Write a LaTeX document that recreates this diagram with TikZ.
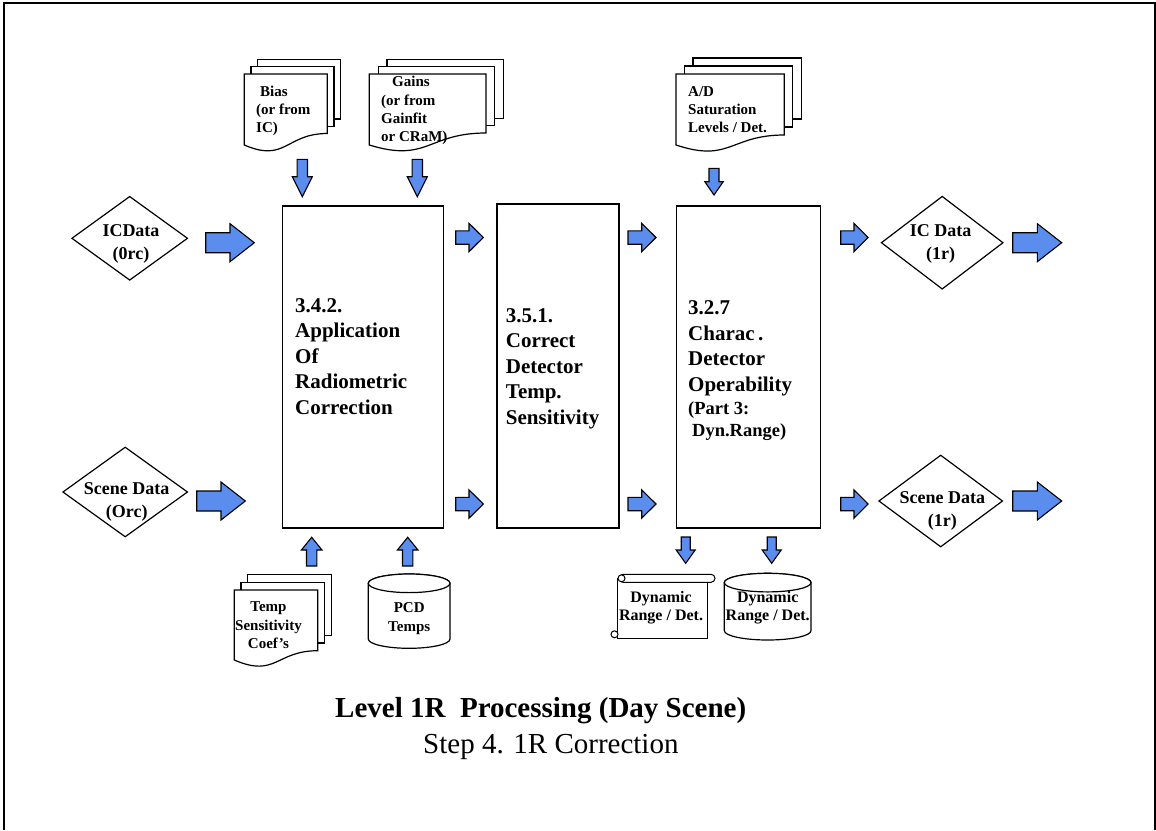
\documentclass[tikz,border=0pt]{standalone}
\usepackage{fontspec}
\setmainfont{Liberation Serif}
\usetikzlibrary{shapes.geometric}
\definecolor{flowblue}{RGB}{91,141,239}
\newcommand{\boxfont}{\fontsize{21pt}{25.5pt}\selectfont\bfseries}
\newcommand{\smallboxfont}{\fontsize{18.5pt}{22pt}\selectfont\bfseries}
\newcommand{\diafont}{\fontsize{18pt}{22.6pt}\selectfont\bfseries}
\newcommand{\docfont}{\fontsize{15pt}{18.3pt}\selectfont\bfseries}
\newcommand{\storefont}{\fontsize{16pt}{18pt}\selectfont\bfseries}
\newcommand{\titlefont}{\fontsize{29pt}{34pt}\selectfont\bfseries}
\newcommand{\subtitlefont}{\fontsize{29pt}{34pt}\selectfont}
% block arrows: tail, centre, head start, tip, half shaft, half head
\newcommand{\rightblock}[6]{\filldraw[blockarrow] (#1,#2-#5) -- (#3,#2-#5) -- (#3,#2-#6) -- (#4,#2) -- (#3,#2+#6) -- (#3,#2+#5) -- (#1,#2+#5) -- cycle;}
\newcommand{\vertblock}[6]{\filldraw[blockarrow] (#1-#5,#2) -- (#1-#5,#3) -- (#1-#6,#3) -- (#1,#4) -- (#1+#6,#3) -- (#1+#5,#3) -- (#1+#5,#2) -- cycle;}
% stacked sheets, front one with a wavy foot
\newcommand{\multidoc}[7]{%
\filldraw[docpage] (#1+2*#6,#2-2*#7) rectangle (#3+2*#6,#5-2*#7);
\filldraw[docpage] (#1+#6,#2-#7) rectangle (#3+#6,#5-#7);
\filldraw[docpage] (#1,#2) -- (#3,#2) -- (#3,#5) .. controls ({(#1+#3)/2},#5) and ({(#1+#3)/2},#4+18) .. (#1,#4) -- cycle;}
% stored data drum: left, top, right, bottom
\newcommand{\drum}[4]{%
\filldraw[docpage] (#1,#2+9.3) -- (#1,#4-9.3) arc[start angle=180,end angle=360,x radius={(#3-#1)/2*1pt},y radius=9.3pt] -- (#3,#2+9.3) arc[start angle=0,end angle=180,x radius={(#3-#1)/2*1pt},y radius=9.3pt] -- cycle;
\draw[docpage] ({(#1+#3)/2},#2+9.3) ellipse[x radius={(#3-#1)/2*1pt},y radius=9.3pt];}

\begin{document}
\begin{tikzpicture}[x=1pt,y=-1pt,
  procbox/.style={draw, line width=1.4pt, inner sep=0pt},
  boxtext/.style={font=\boxfont, align=left, anchor=base west, inner sep=0pt},
  datadia/.style={diamond, draw, line width=1.2pt, inner sep=0pt},
  diatext/.style={font=\diafont, align=center, anchor=base, inner sep=0pt},
  doctext/.style={font=\docfont, align=left, anchor=base west, inner sep=0pt},
  storetext/.style={font=\docfont, align=center, anchor=base, inner sep=0pt},
  blockarrow/.style={fill=flowblue, draw=black, line width=1.1pt},
  docpage/.style={draw, fill=white, line width=1.2pt}]
\useasboundingbox (0,0) rectangle (1156,830);
\draw[line width=2pt] (4,830) -- (4,3) -- (1155,3) -- (1155,830);

% data in / out (text nodes sit on their last baseline)
\node[datadia, minimum width=116pt, minimum height=84pt] (icin) at (129.7,238.3) {};
\node[diatext] (icintext) at (131,259.3) {ICData\\(0rc)};
\node[datadia, minimum width=125pt, minimum height=90pt] (scenein) at (125.2,492) {};
\node[diatext] (sceneintext) at (126.7,517) {Scene Data\\(Orc)};
\node[datadia, minimum width=122pt, minimum height=93pt] (icout) at (942.2,242.7) {};
\node[diatext] (icouttext) at (940.5,259.5) {IC Data\\(1r)};
\node[datadia, minimum width=124pt, minimum height=92pt] (sceneout) at (940.7,501) {};
\node[diatext] (sceneouttext) at (942.3,526.5) {Scene Data\\(1r)};

% processing steps
\node[procbox, minimum width=161pt, minimum height=322pt] (radcorr) at (363.2,366.9) {};
\node[boxtext] (radcorrtext) at (295,414) {3.4.2.\\Application\\Of\\Radiometric\\Correction};
\node[procbox, minimum width=122pt, minimum height=324pt] (tempcorr) at (557.9,366) {};
\node[boxtext] (tempcorrtext) at (505.7,424.3) {3.5.1.\\Correct\\Detector\\Temp.\\Sensitivity};
\node[procbox, minimum width=144pt, minimum height=322pt] (operab) at (748.7,366.9) {};
\node[boxtext] (operabtext) at (688,436) {3.2.7\\Charac\,.\\Detector\\Operability\\[-2.5pt]{\smallboxfont (Part 3:}\\[-3.5pt]{\smallboxfont\hspace*{4pt}Dyn.Range)}};

% tables
\multidoc{244.3}{74}{327.3}{145}{133.5}{6.7}{7.3}
\node[doctext] (biastext) at (256,132.7) {\hspace*{4pt}Bias\\(or from\\IC)};
\multidoc{369.3}{74}{486}{145}{133}{8.8}{7.3}
\node[doctext] (gainstext) at (381,141.7) {\hspace*{11pt}Gains\\(or from\\Gainfit\\or CRaM)};
\multidoc{676}{74}{784.3}{145}{135}{8.5}{8}
\node[doctext] (adtext) at (688,132.7) {A/D\\Saturation\\Levels / Det.};
\multidoc{234.3}{590}{317.7}{660}{650.7}{6.7}{7.8}
\node[storetext] (tempcoeftext) at (268.5,648.3) {Temp\\Sensitivity\\Coef's};

% stores
\drum{368.3}{574}{450}{648.3}
\node[storetext] (pcdtext) at (409.2,631) {PCD\\Temps};
\drum{724.3}{573.3}{811}{640}
\node[storetext, font=\storefont] (dyndrumtext) at (767.7,620.7) {Dynamic\\Range / Det.};
\filldraw[docpage, line width=1pt] (617.3,578) rectangle (707.3,638);
\filldraw[docpage, line width=1pt, rounded corners=4pt] (619,574.3) rectangle (715,582.3);
\filldraw[docpage, line width=1pt] (621.5,578.3) circle[radius=3.5pt];
\filldraw[docpage, line width=1pt] (614.5,634.3) circle[radius=3.5pt];
\node[storetext, font=\storefont] (dynscrolltext) at (661,620.7) {Dynamic\\Range / Det.};

% flow arrows
\rightblock{205.7}{242.7}{230}{254.3}{10}{19}
\rightblock{196.7}{501}{221}{245.3}{10}{19}
\rightblock{1012.7}{242.7}{1037.3}{1061.7}{10}{19}
\rightblock{1012.7}{501}{1037.3}{1061.7}{10}{19}
\rightblock{455.7}{237.5}{469}{483.3}{6.7}{14.2}
\rightblock{455.7}{504}{469}{483.3}{6.7}{14.2}
\rightblock{628}{237.5}{641.7}{656}{6.7}{14.2}
\rightblock{628}{504}{641.7}{656}{6.7}{14.2}
\rightblock{840.7}{237.5}{854}{868}{6.7}{14.2}
\rightblock{840.7}{504}{854}{868}{6.7}{14.2}
\vertblock{302.3}{159.3}{176.7}{196.7}{5.2}{10}
\vertblock{417.3}{159.3}{176.7}{196.7}{5.2}{10}
\vertblock{714}{168.3}{181.7}{195}{5}{9.2}
\vertblock{311.7}{566}{550}{537.3}{5.2}{10.3}
\vertblock{407.7}{566}{550}{537.3}{5.2}{10.3}
\vertblock{685.7}{537}{550}{563.3}{4.5}{9.5}
\vertblock{771.7}{537}{550}{563.3}{4.5}{9.5}

% caption
\node[font=\titlefont, anchor=base west, inner sep=0pt] (title) at (335,717) {Level 1R\ \ Processing (Day Scene)};
\node[font=\subtitlefont, anchor=base west, inner sep=0pt] (subtitle) at (423,753) {Step 4. 1R Correction};
\end{tikzpicture}
\end{document}
